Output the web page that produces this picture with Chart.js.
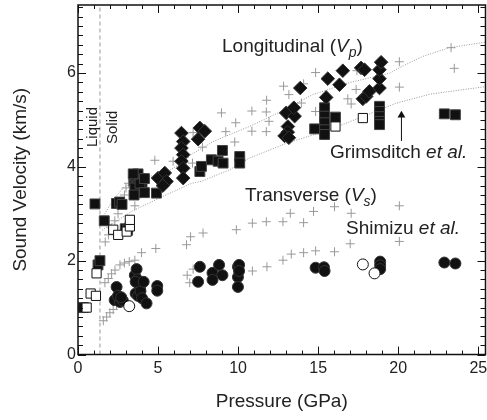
<!DOCTYPE html>
<html>
<head>
<meta charset="utf-8">
<script src="https://cdn.jsdelivr.net/npm/chart.js@4"></script>
<style>
  html, body { margin: 0; padding: 0; background: #fff; }
</style>
</head>
<body>
<canvas id="chart" width="487" height="420"></canvas>
<script>
// Axis ranges / tick steps
const xRange = [0, 25.45];
const yRange = [0, 7.45];
const xMajorTicks = [0, 5, 10, 15, 20, 25];
const yMajorTicks = [0, 2, 4, 6];
const meltPressure = 1.37;

// Gray "+" : calculated / other measurements (Vp and Vs)
const crossVp = [
  [1.7, 2.4], [1.9, 2.55], [2.1, 2.7], [2.3, 2.85], [2.5, 3.0], [2.7, 3.2], [2.9, 3.4], [3.0, 3.55], [3.15, 3.65],
  [2.4, 2.62], [3.55, 3.17], [4.8, 4.14], [5.94, 4.12], [7.15, 4.08], [7.77, 4.42], [7.19, 4.73],
  [8.96, 5.15], [9.23, 4.75], [9.85, 4.94], [9.79, 4.53], [10.86, 5.19], [10.86, 4.76],
  [11.78, 5.42], [11.76, 5.17], [11.76, 4.75], [11.93, 4.97], [12.84, 5.72], [13.17, 5.54],
  [14.09, 5.77], [13.95, 5.36], [14.84, 6.01], [14.84, 5.18], [16.02, 5.04], [16.85, 5.45],
  [17.06, 5.34], [17.37, 5.65], [17.42, 6.05], [20.07, 6.24], [20.07, 5.70], [23.3, 6.54], [23.5, 6.10]
];
const crossVs = [
  [1.58, 0.72], [1.79, 0.80], [1.99, 0.89], [2.2, 0.96], [2.41, 1.05],
  [1.68, 1.53], [1.89, 1.62], [2.1, 1.72], [2.31, 1.80], [2.62, 1.91], [2.9, 1.95], [3.2, 1.98],
  [3.55, 2.01], [3.97, 2.17], [4.86, 2.26],
  [6.78, 2.34], [7.03, 2.51], [7.81, 2.59], [9.89, 2.66], [10.89, 2.80], [11.76, 2.83], [12.8, 2.83],
  [13.26, 3.01], [14.09, 2.81], [14.71, 3.05], [16.02, 3.15], [17.06, 3.01], [20.07, 3.17],
  [6.82, 1.69], [6.98, 1.53], [7.19, 1.82], [10.89, 1.78], [11.8, 1.87], [12.8, 2.01], [13.32, 2.14],
  [14.09, 2.17], [14.84, 2.21], [16.02, 2.19], [17.0, 2.36], [20.07, 2.41]
];

// Filled squares (Vp)
const squaresFilled = [
  [0.12, 1.0], [0.35, 1.0], [1.25, 1.91], [1.37, 2.0],
  [1.06, 3.21], [1.64, 2.85], [2.4, 3.22], [2.6, 3.25], [2.75, 3.2], [2.95, 2.68], [3.1, 2.65],
  [3.5, 3.7], [3.6, 3.8], [3.7, 3.6], [3.8, 3.5], [3.9, 3.75], [3.65, 3.45], [3.55, 3.55], [4.0, 3.65],
  [3.87, 3.65], [3.75, 3.85], [3.45, 3.85], [4.15, 3.75], [4.15, 3.45], [3.5, 3.4], [4.9, 3.44],
  [7.61, 3.90], [7.71, 4.01], [8.33, 4.15], [8.75, 4.12], [9.02, 4.35], [9.06, 4.08], [10.1, 4.22], [10.1, 4.08],
  [14.78, 4.81], [15.4, 5.26], [15.4, 5.08], [15.4, 4.94], [15.4, 4.79], [15.4, 4.69], [16.08, 5.06],
  [18.83, 5.29], [18.83, 5.18], [18.83, 5.07], [18.83, 4.97], [18.83, 4.90], [22.88, 5.13], [23.57, 5.11]
];
// Open squares (Vp)
const squaresOpen = [
  [0.54, 1.0], [0.79, 1.30], [1.12, 1.25], [1.16, 1.73], [2.2, 2.66], [2.51, 2.55], [3.04, 2.62],
  [3.24, 2.73], [3.24, 2.87], [16.08, 4.86], [17.79, 5.04]
];
// Diamonds (Vp)
const diamonds = [
  [5.0, 3.76], [5.42, 3.87], [5.53, 3.69], [5.3, 3.6],
  [6.46, 4.72], [6.57, 4.54], [6.46, 4.40], [6.57, 4.26], [6.46, 4.12], [6.57, 3.97], [6.57, 3.76],
  [7.61, 4.83], [7.92, 4.76], [7.5, 4.59],
  [13.0, 5.15], [13.53, 5.08], [13.11, 4.86], [13.1, 4.74], [12.9, 4.66], [13.17, 4.62], [13.48, 5.26], [13.88, 5.68],
  [15.5, 5.48], [15.6, 5.88], [16.33, 5.75], [16.54, 6.05],
  [17.68, 6.11], [17.9, 6.07], [17.79, 5.45], [18.0, 5.5], [18.2, 5.61], [18.83, 5.68], [18.83, 5.88],
  [18.83, 6.07], [18.93, 6.23]
];
// Filled circles (Vs)
const circlesFilled = [
  [2.41, 1.44], [2.29, 1.16], [2.62, 1.12], [2.8, 1.15], [2.5, 1.25], [2.7, 1.22],
  [3.55, 1.69], [3.66, 1.82], [3.7, 1.6], [3.8, 1.5], [3.87, 1.41], [3.6, 1.3], [3.75, 1.25], [3.9, 1.35],
  [4.0, 1.2], [4.28, 1.09], [4.95, 1.46], [4.95, 1.36], [3.6, 1.55], [4.1, 1.55],
  [7.61, 1.87], [7.5, 1.55], [8.4, 1.74], [8.4, 1.59], [8.81, 1.91], [9.02, 1.69],
  [9.99, 1.87], [9.99, 1.65], [9.99, 1.44], [10.06, 1.91], [10.06, 1.78],
  [14.84, 1.85], [15.36, 1.86], [15.4, 1.78], [18.87, 1.98], [18.87, 1.9], [18.87, 1.82],
  [22.88, 1.96], [23.57, 1.94]
];
// Open circles (Vs)
const circlesOpen = [[3.2, 1.03], [17.79, 1.92], [18.52, 1.73]];

// Dotted model curves for Vp
const curveUpper = [
  [1.5, 2.9], [2.2, 3.3], [2.9, 3.58], [4, 3.75], [5.6, 3.9], [6.8, 4.15], [7.0, 4.25], [8.5, 4.55],
  [10.7, 4.86], [12.5, 5.15], [14.65, 5.54], [17, 5.8], [19.5, 6.0], [20, 6.1], [21.5, 6.35], [23.2, 6.54], [25.45, 6.66]
];
const curveLower = [
  [1.5, 2.65], [3.35, 3.05], [5.3, 3.37], [7.1, 3.65], [7.7, 3.69], [9.48, 3.94], [10.72, 4.19],
  [13, 4.5], [15.7, 4.79], [18, 5.1], [19.9, 5.36], [22, 5.55], [25.45, 5.71]
];
// Arrow pointing at the Grimsditch curve
const arrowLine = [[20.2, 4.55], [20.2, 5.1]];

const pts = arr => arr.map(([x, y]) => ({ x, y }));
const FONT = '"Liberation Sans", Arial, Helvetica, sans-serif';
const TXT = '#222';
const isMult = (v, m) => Math.abs(v / m - Math.round(v / m)) < 1e-6;

// Inward ticks on all four sides plus frame, and the text annotations
const framePlugin = {
  id: 'framePlugin',
  afterDatasetsDraw(chart) {
    const { ctx, chartArea: a, scales: { x, y } } = chart;
    ctx.save();
    ctx.strokeStyle = '#111';
    ctx.lineWidth = 1;
    ctx.beginPath();
    x.ticks.forEach(t => {
      if (!isMult(t.value, 1)) return;
      const px = Math.round(x.getPixelForValue(t.value)) + 0.5;
      const len = xMajorTicks.includes(Math.round(t.value)) ? 8 : 4;
      ctx.moveTo(px, a.bottom); ctx.lineTo(px, a.bottom - len);
      ctx.moveTo(px, a.top); ctx.lineTo(px, a.top + len);
    });
    y.ticks.forEach(t => {
      if (!isMult(t.value, 0.2)) return;
      const py = Math.round(y.getPixelForValue(t.value)) + 0.5;
      const len = isMult(t.value, 2) ? 8 : 5;
      ctx.moveTo(a.left, py); ctx.lineTo(a.left + len, py);
      ctx.moveTo(a.right, py); ctx.lineTo(a.right - len, py);
    });
    ctx.stroke();
    ctx.lineWidth = 1.5;
    ctx.strokeRect(a.left, a.top, a.right - a.left, a.bottom - a.top);

    // annotations
    ctx.fillStyle = TXT;
    ctx.textBaseline = 'alphabetic';
    const runs = (xx, yy, parts) => {
      let cx = xx;
      parts.forEach(([s, style, size, dy]) => {
        ctx.font = `${style || ''} ${size || 19}px ${FONT}`;
        ctx.fillText(s, cx, yy + (dy || 0));
        cx += ctx.measureText(s).width;
      });
    };
    runs(222, 52, [['Longitudinal ('], ['V', 'italic'], ['p', 'italic', 14, 5], [')']]);
    runs(330, 158, [['Grimsditch '], ['et al.', 'italic']]);
    runs(245, 201, [['Transverse ('], ['V', 'italic'], ['s', 'italic', 14, 5], [')']]);
    runs(346, 234, [['Shimizu '], ['et al.', 'italic']]);

    ctx.font = `15px ${FONT}`;
    ctx.translate(97, 147);
    ctx.rotate(-Math.PI / 2);
    ctx.fillText('Liquid', 0, 0);
    ctx.rotate(Math.PI / 2);
    ctx.translate(-97, -147);
    ctx.translate(117, 144);
    ctx.rotate(-Math.PI / 2);
    ctx.fillText('Solid', 0, 0);
    ctx.restore();
  }
};

const scatterSet = (data, style, extra) => Object.assign({
  data: pts(data), showLine: false, pointStyle: style, pointHoverRadius: 0
}, extra);

new Chart(document.getElementById('chart'), {
  type: 'scatter',
  data: {
    datasets: [
      scatterSet(circlesOpen, 'circle', { pointRadius: 5.5, backgroundColor: '#fff', borderColor: '#111', borderWidth: 1 }),
      scatterSet(circlesFilled, 'circle', { pointRadius: 5.5, backgroundColor: '#111', borderColor: '#333', borderWidth: 1 }),
      scatterSet(diamonds, 'rectRot', { pointRadius: 6.8, backgroundColor: '#111', borderColor: '#333', borderWidth: 1 }),
      scatterSet(squaresOpen, 'rect', { pointRadius: 6.5, backgroundColor: '#fff', borderColor: '#111', borderWidth: 1 }),
      scatterSet(squaresFilled, 'rect', { pointRadius: 7, backgroundColor: '#111', borderColor: '#444', borderWidth: 1 }),
      scatterSet(crossVp, 'cross', { pointRadius: 4.5, borderColor: '#999', borderWidth: 1 }),
      scatterSet(crossVs, 'cross', { pointRadius: 4.5, borderColor: '#999', borderWidth: 1 }),
      { data: pts(arrowLine), showLine: true, borderColor: '#111', borderWidth: 1,
        pointStyle: 'triangle', pointRadius: [0, 4.5], backgroundColor: '#111', pointBorderWidth: 0 },
      { data: pts(curveUpper), showLine: true, borderColor: '#999', borderWidth: 1, borderDash: [1, 1.5], pointRadius: 0, tension: 0 },
      { data: pts(curveLower), showLine: true, borderColor: '#999', borderWidth: 1, borderDash: [1, 1.5], pointRadius: 0, tension: 0 },
      { data: pts([[meltPressure, 0], [meltPressure, yRange[1]]]), showLine: true, borderColor: '#aaa',
        borderWidth: 1.2, borderDash: [4, 3], pointRadius: 0 }
    ]
  },
  options: {
    responsive: false,
    animation: false,
    events: [],
    layout: { autoPadding: false, padding: { top: 5, right: 1.5, left: 0, bottom: 0 } },
    plugins: { legend: { display: false }, tooltip: { enabled: false } },
    scales: {
      x: {
        type: 'linear', min: xRange[0], max: xRange[1],
        grid: { display: false, drawTicks: false },
        border: { display: false },
        ticks: {
          stepSize: 1, autoSkip: false, includeBounds: false, maxRotation: 0, padding: 4,
          color: TXT, font: { family: FONT, size: 16 },
          callback: v => (xMajorTicks.includes(v) ? String(v) : '')
        },
        title: { display: true, text: 'Pressure (GPa)', color: TXT, font: { family: FONT, size: 19 },
                 padding: { top: 0, bottom: 7 } },
        afterFit: s => { s.height = 65.5; s.paddingLeft = 0; s.paddingRight = 0; }
      },
      y: {
        type: 'linear', min: yRange[0], max: yRange[1],
        grid: { display: false, drawTicks: false },
        border: { display: false },
        ticks: {
          stepSize: 0.2, autoSkip: false, includeBounds: false, padding: 2,
          color: TXT, font: { family: FONT, size: 16 },
          callback: v => (isMult(v, 2) && yMajorTicks.includes(Math.round(v)) ? String(Math.round(v)) : '')
        },
        title: { display: true, text: 'Sound Velocity (km/s)', color: TXT, font: { family: FONT, size: 19 },
                 padding: { top: 9, bottom: 0 } },
        afterFit: s => { s.width = 78; s.paddingTop = 0; s.paddingBottom = 0; }
      }
    }
  },
  plugins: [framePlugin]
});
</script>
</body>
</html>
